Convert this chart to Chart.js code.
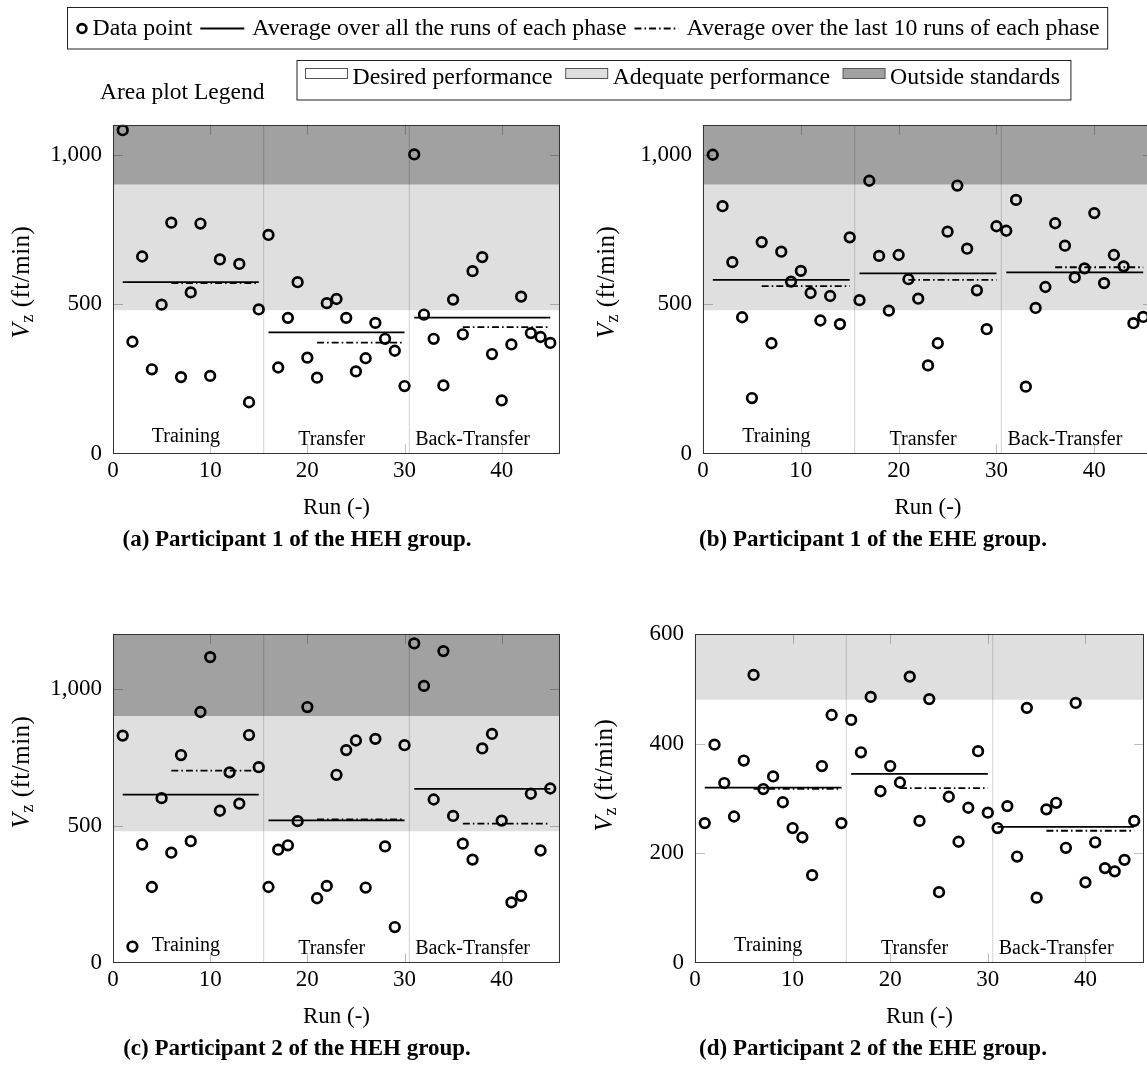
<!DOCTYPE html>
<html>
<head>
<meta charset="utf-8">
<script src="https://cdn.jsdelivr.net/npm/chart.js@4.4.1/dist/chart.umd.min.js"></script>
<style>
  html, body { margin: 0; padding: 0; background: #fff; overflow: hidden; }
  body { width: 1147px; height: 1075px; position: relative; }
  canvas { position: absolute; }
  #overlay { position: absolute; left: 0; top: 0; pointer-events: none; }
  #overlay text { font-family: 'Liberation Serif', 'Times New Roman', serif; fill: #000; }
</style>
</head>
<body>
<canvas id="pa" width="580" height="400" style="left:0px;top:100px"></canvas>
<canvas id="pb" width="583" height="400" style="left:590px;top:100px"></canvas>
<canvas id="pc" width="580" height="400" style="left:0px;top:609px"></canvas>
<canvas id="pd" width="582" height="400" style="left:582px;top:609px"></canvas>
<svg id="overlay" width="1147" height="1075"></svg>
<script>
// run numbers (x) and V_z readings (ft/min) per participant
const runs = [1, 2, 3, 4, 5, 6, 7, 8, 9, 10, 11, 12, 13, 14, 15,
              16, 17, 18, 19, 20, 21, 22, 23, 24, 25, 26, 27, 28, 29, 30,
              31, 32, 33, 34, 35, 36, 37, 38, 39, 40, 41, 42, 43, 44, 45];

const p1HEH = [1082, 375, 660, 283, 499, 773, 257, 540, 770, 261, 650, 1170, 635, 173, 483,
               732, 289, 455, 574, 322, 255, 504, 518, 455, 276, 320, 438, 385, 345, 227,
               1001, 466, 385, 229, 516, 400, 611, 658, 334, 179, 366, 526, 404, 391, 371];
const p1EHE = [1000, 828, 641, 457, 187, 708, 370, 676, 576, 612, 538, 446, 528, 434, 724,
               514, 913, 662, 479, 665, 584, 519, 296, 370, 743, 897, 686, 547, 417, 761,
               746, 849, 225, 488, 558, 771, 696, 590, 620, 805, 571, 665, 627, 437, 458];
const p2HEH = [829, 60, 432, 277, 601, 402, 758, 444, 915, 1115, 555, 695, 581, 831, 714,
               277, 413, 429, 517, 933, 236, 281, 686, 776, 811, 275, 817, 425, 131, 794,
               1165, 1010, 596, 1137, 536, 435, 377, 782, 835, 519, 221, 245, 617, 410, 636];
const p2EHE = [255, 398, 328, 267, 369, 525, 317, 340, 293, 246, 229, 160, 359, 452, 255,
               443, 384, 485, 313, 359, 329, 522, 259, 481, 129, 303, 221, 283, 386, 274,
               246, 286, 194, 465, 119, 280, 292, 210, 474, 147, 220, 173, 167, 188, 259];

const phaseNames = ['Training', 'Transfer', 'Back-Transfer'];
const phaseFirst = [1, 16, 31];
const phaseLast = [15, 30, 45];
const phaseSplits = [15.5, 30.5];
const lastRuns = 10;

const xTicks = [0, 10, 20, 30, 40];
const yTicksWide = [0, 500, 1000];
const yTicksSmall = [0, 200, 400, 600];

// performance zones (ft/min)
const zoneNames = ['Desired performance', 'Adequate performance', 'Outside standards'];
const zoneColors = ['#ffffff', '#dfdfdf', '#a1a1a1'];
const adequateLimit = 480;
const outsideLimit = 900;

const xMax = 46;

Chart.defaults.font.family = "'Liberation Serif', 'Times New Roman', serif";
Chart.defaults.font.size = 23;
Chart.defaults.color = '#000';

const mean = arr => arr.reduce((s, v) => s + v, 0) / arr.length;

// pgfplots-like frame, inward ticks and phase names
const pgfAxis = {
  id: 'pgfAxis',
  afterDatasetsDraw(chart) {
    const { ctx, chartArea: a, scales: { x, y } } = chart;
    ctx.save();
    ctx.strokeStyle = 'rgba(0,0,0,0.25)';
    ctx.lineWidth = 1;
    ctx.beginPath();
    x.ticks.forEach(t => {
      if (t.value <= x.min || t.value >= x.max) return;
      const px = Math.round(x.getPixelForValue(t.value)) + 0.5;
      ctx.moveTo(px, a.top); ctx.lineTo(px, a.top + 10);
      ctx.moveTo(px, a.bottom); ctx.lineTo(px, a.bottom - 10);
    });
    y.ticks.forEach(t => {
      if (t.value <= y.min || t.value >= y.max) return;
      const py = Math.round(y.getPixelForValue(t.value)) + 0.5;
      ctx.moveTo(a.left, py); ctx.lineTo(a.left + 10, py);
      ctx.moveTo(a.right, py); ctx.lineTo(a.right - 10, py);
    });
    ctx.stroke();

    ctx.strokeStyle = '#333';
    ctx.strokeRect(Math.round(a.left) + 0.5, Math.round(a.top) + 0.5,
                   Math.round(a.width) - 1, Math.round(a.height) - 1);

    ctx.fillStyle = '#000';
    ctx.font = "20px 'Liberation Serif', serif";
    ctx.textAlign = 'center';
    ctx.textBaseline = 'alphabetic';
    const labelX = [7.5, 22.5, 37];
    const lift = [12.5, 9.5, 9.5];
    phaseNames.forEach((name, i) => {
      ctx.fillText(name, x.getPixelForValue(labelX[i]), a.bottom - lift[i]);
    });
    ctx.restore();
  }
};

function makePanel(id, values, yMax, yTicks) {
  const datasets = [];

  datasets.push({
    data: runs.map((r, i) => ({ x: r, y: values[i] })),
    showLine: false,
    pointRadius: 4.8,
    pointBorderWidth: 2.7,
    pointBorderColor: '#000',
    pointBackgroundColor: 'rgba(0,0,0,0)',
    order: 0
  });

  phaseFirst.forEach((first, i) => {
    const last = phaseLast[i];
    const phaseVals = values.slice(first - 1, last);
    const all = mean(phaseVals);
    const tail = mean(phaseVals.slice(-lastRuns));
    datasets.push({
      data: [{ x: first, y: all }, { x: last, y: all }],
      showLine: true, pointRadius: 0, borderColor: '#000', borderWidth: 1.8, order: 1
    });
    datasets.push({
      data: [{ x: last - lastRuns + 1, y: tail }, { x: last, y: tail }],
      showLine: true, pointRadius: 0, borderColor: '#000', borderWidth: 1.8,
      borderDash: [7, 3, 1.6, 3], order: 1
    });
  });

  phaseSplits.forEach(s => {
    datasets.push({
      data: [{ x: s, y: 0 }, { x: s, y: yMax }],
      showLine: true, pointRadius: 0, borderColor: 'rgba(0,0,0,0.15)', borderWidth: 1.2, order: 2
    });
  });

  const adequateTop = Math.min(outsideLimit, yMax);
  datasets.push({
    data: [{ x: 0, y: adequateTop }, { x: xMax, y: adequateTop }],
    showLine: true, pointRadius: 0, borderWidth: 0, borderColor: 'rgba(0,0,0,0)',
    backgroundColor: zoneColors[1], fill: { value: adequateLimit }, order: 3
  });
  if (yMax > outsideLimit) {
    datasets.push({
      data: [{ x: 0, y: yMax }, { x: xMax, y: yMax }],
      showLine: true, pointRadius: 0, borderWidth: 0, borderColor: 'rgba(0,0,0,0)',
      backgroundColor: zoneColors[2], fill: { value: outsideLimit }, order: 3
    });
  }

  new Chart(document.getElementById(id), {
    type: 'scatter',
    data: { datasets },
    plugins: [pgfAxis],
    options: {
      responsive: false,
      animation: false,
      events: [],
      layout: { padding: { top: 17, right: 20, bottom: 0, left: 0 } },
      plugins: { legend: { display: false }, tooltip: { enabled: false } },
      scales: {
        x: {
          type: 'linear', min: 0, max: xMax,
          grid: { display: false, drawTicks: false },
          border: { display: false },
          afterBuildTicks: ax => { ax.ticks = xTicks.map(v => ({ value: v })); },
          afterFit: ax => { ax.height = 46; },
          ticks: { padding: 3.4, maxRotation: 0, autoSkip: false, callback: v => String(v) }
        },
        y: {
          type: 'linear', min: 0, max: yMax,
          grid: { display: false, drawTicks: false },
          border: { display: false },
          afterBuildTicks: ax => { ax.ticks = yTicks.map(v => ({ value: v })); },
          afterFit: ax => { ax.width = 113; },
          ticks: { padding: 11, autoSkip: false, callback: v => v.toLocaleString('en-US') }
        }
      }
    }
  });
}

makePanel('pa', p1HEH, 1100, yTicksWide);
makePanel('pb', p1EHE, 1100, yTicksWide);
makePanel('pc', p2HEH, 1200, yTicksWide);
makePanel('pd', p2EHE, 600, yTicksSmall);

// ---- text and legends as SVG ----
const svgNS = 'http://www.w3.org/2000/svg';
const overlay = document.getElementById('overlay');
function svgEl(tag, attrs) {
  const el = document.createElementNS(svgNS, tag);
  for (const k in attrs) el.setAttribute(k, attrs[k]);
  overlay.appendChild(el);
  return el;
}
function svgText(str, x, y, attrs) {
  const t = svgEl('text', Object.assign({ x, y, 'font-size': 23 }, attrs || {}));
  t.textContent = str;
  return t;
}

const legendSize = 23.8;

// legend for marks
let lx = 76.5;
const l1Base = 34.5, l1Mid = 28.5;
svgEl('circle', { cx: lx + 5.5, cy: l1Mid, r: 4.4, fill: 'none', stroke: '#000', 'stroke-width': 2.6 });
lx += 11 + 5;
let t = svgText('Data point', lx, l1Base, { 'font-size': legendSize });
lx += t.getComputedTextLength() + 8;
svgEl('line', { x1: lx, y1: l1Mid, x2: lx + 44, y2: l1Mid, stroke: '#000', 'stroke-width': 1.8 });
lx += 44 + 8;
t = svgText('Average over all the runs of each phase', lx, l1Base, { 'font-size': legendSize });
lx += t.getComputedTextLength() + 8;
svgEl('line', { x1: lx, y1: l1Mid, x2: lx + 44, y2: l1Mid, stroke: '#000', 'stroke-width': 1.8,
                'stroke-dasharray': '7 3 1.6 3' });
lx += 44 + 8;
t = svgText('Average over the last 10 runs of each phase', lx, l1Base, { 'font-size': legendSize });
lx += t.getComputedTextLength() + 8;
svgEl('rect', { x: 67.5, y: 7.5, width: lx - 67.5, height: 41.5, fill: 'none', stroke: '#222', 'stroke-width': 1 });

// legend for zones
let mx = 305.5;
const l2Base = 83.5;
zoneNames.forEach((name, i) => {
  svgEl('rect', { x: mx, y: 68.5, width: 42, height: 10, fill: zoneColors[i], stroke: '#555', 'stroke-width': 1 });
  mx += 42 + 5;
  const tt = svgText(name, mx, l2Base, { 'font-size': legendSize });
  mx += tt.getComputedTextLength() + (i < zoneNames.length - 1 ? 13 : 11);
});
svgEl('rect', { x: 297, y: 60.5, width: mx - 297, height: 39.5, fill: 'none', stroke: '#222', 'stroke-width': 1 });
svgText('Area plot Legend', 100, 98.8, { 'font-size': 23.5 });

// axis titles and captions
function yTitle(x, y) {
  const g = svgEl('text', { transform: `translate(${x},${y}) rotate(-90)`, 'text-anchor': 'middle',
                            'font-size': 25, 'letter-spacing': 0.5 });
  const v = document.createElementNS(svgNS, 'tspan');
  v.setAttribute('font-style', 'italic'); v.textContent = 'V'; g.appendChild(v);
  const z = document.createElementNS(svgNS, 'tspan');
  z.setAttribute('font-size', 18); z.setAttribute('dy', 4); z.textContent = 'z'; g.appendChild(z);
  const u = document.createElementNS(svgNS, 'tspan');
  u.setAttribute('dy', -4); u.textContent = ' (ft/min)'; g.appendChild(u);
}
yTitle(28.5, 282);
yTitle(613.5, 282);
yTitle(28.5, 772);
yTitle(611.5, 775);

svgText('Run (-)', 336.5, 514, { 'text-anchor': 'middle' });
svgText('Run (-)', 928, 514, { 'text-anchor': 'middle' });
svgText('Run (-)', 336.5, 1023, { 'text-anchor': 'middle' });
svgText('Run (-)', 919.5, 1023, { 'text-anchor': 'middle' });

const captions = ['(a) Participant 1 of the HEH group.', '(b) Participant 1 of the EHE group.',
                  '(c) Participant 2 of the HEH group.', '(d) Participant 2 of the EHE group.'];
svgText(captions[0], 297, 546, { 'text-anchor': 'middle', 'font-weight': 'bold' });
svgText(captions[1], 873, 546, { 'text-anchor': 'middle', 'font-weight': 'bold' });
svgText(captions[2], 297, 1055, { 'text-anchor': 'middle', 'font-weight': 'bold' });
svgText(captions[3], 873, 1055, { 'text-anchor': 'middle', 'font-weight': 'bold' });
</script>
</body>
</html>
